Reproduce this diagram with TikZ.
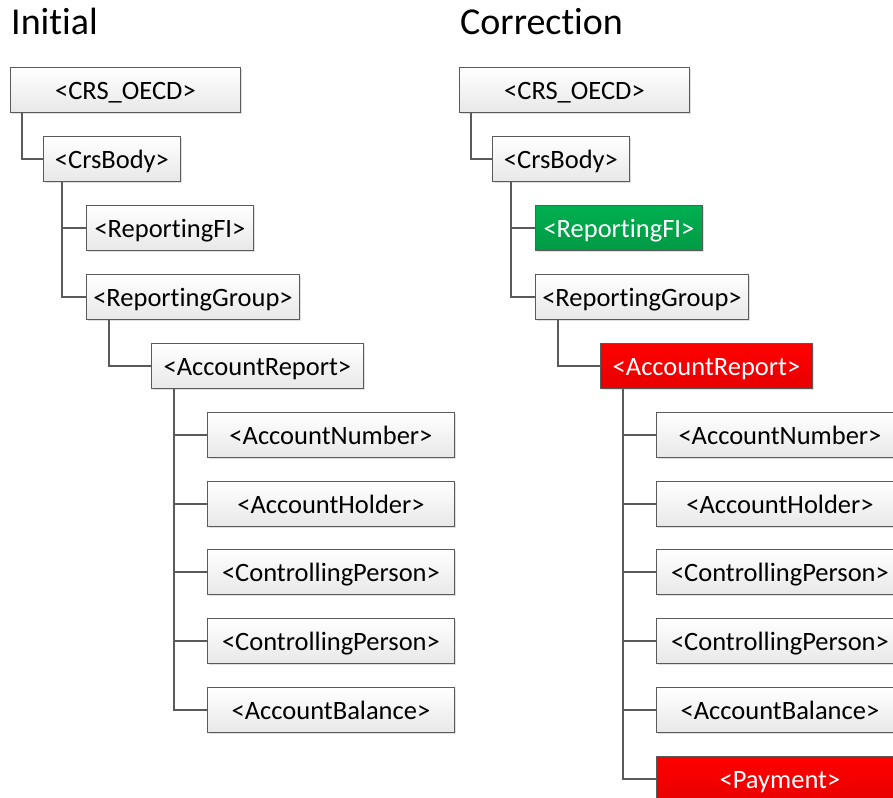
\documentclass[tikz,border=0pt]{standalone}
\usepackage{fontspec}
\setmainfont{Carlito}[Ligatures={NoCommon}]
\usetikzlibrary{shadows}
\definecolor{lineg}{HTML}{5A5A5A}
\definecolor{boxtop}{HTML}{FFFFFF}
\definecolor{boxbot}{HTML}{E8E8E8}
\definecolor{redtop}{HTML}{FF0000}
\definecolor{redbot}{HTML}{E80000}
\definecolor{grntop}{HTML}{00B050}
\definecolor{grnbot}{HTML}{009A44}
\tikzset{
  box/.style={draw=lineg, line width=0.9pt, anchor=north west, minimum height=45pt, inner sep=0pt,
    top color=boxtop, bottom color=boxbot, text=black,
    text height=19pt, text depth=0pt,
    font=\fontsize{26.5}{30}\selectfont,
    drop shadow={shadow xshift=2pt, shadow yshift=-2pt, fill=black, opacity=0.12}},
  redbox/.style={box, top color=redtop, bottom color=redbot, text=white},
  grnbox/.style={box, top color=grntop, bottom color=grnbot, text=white},
  conn/.style={draw=lineg, line width=1.1pt},
  title/.style={anchor=base west, inner sep=0pt, font=\fontsize{38}{43}\selectfont}
}
\begin{document}
\begin{tikzpicture}[x=1pt, y=-1pt]
\useasboundingbox (0,0) rectangle (893,797);
% ---------- Initial ----------
\node[title] (t1) at (11,35) {Initial};
\node[box, minimum width=230pt] (a1) at (10,67) {<CRS\_OECD>};
\node[box, minimum width=137pt] (b1) at (43,136) {<CrsBody>};
\node[box, minimum width=167pt] (c1) at (86,205) {<ReportingFI>};
\node[box, minimum width=213pt] (d1) at (86,274) {<ReportingGroup>};
\node[box, minimum width=212pt] (e1) at (151,343) {<AccountReport>};
\node[box, minimum width=247pt] (f1) at (207,412) {<AccountNumber>};
\node[box, minimum width=247pt] (g1) at (207,481) {<AccountHolder>};
\node[box, minimum width=247pt] (h1) at (207,549) {<ControllingPerson>};
\node[box, minimum width=247pt] (i1) at (207,618) {<ControllingPerson>};
\node[box, minimum width=247pt] (j1) at (207,687) {<AccountBalance>};
\draw[conn] ([xshift=12pt]a1.south west) |- (b1.west);
\draw[conn] ([xshift=19pt]b1.south west) |- (c1.west);
\draw[conn] ([xshift=19pt]b1.south west) |- (d1.west);
\draw[conn] ([xshift=23pt]d1.south west) |- (e1.west);
\foreach \c in {f1,g1,h1,i1,j1}
  \draw[conn] ([xshift=23pt]e1.south west) |- (\c.west);
% ---------- Correction ----------
\node[title] (t2) at (460,35) {Correction};
\node[box, minimum width=230pt] (a2) at (459,67) {<CRS\_OECD>};
\node[box, minimum width=137pt] (b2) at (492,136) {<CrsBody>};
\node[grnbox, minimum width=167pt] (c2) at (535,205) {<ReportingFI>};
\node[box, minimum width=213pt] (d2) at (535,274) {<ReportingGroup>};
\node[redbox, minimum width=212pt] (e2) at (600,343) {<AccountReport>};
\node[box, minimum width=247pt] (f2) at (656,412) {<AccountNumber>};
\node[box, minimum width=247pt] (g2) at (656,481) {<AccountHolder>};
\node[box, minimum width=247pt] (h2) at (656,549) {<ControllingPerson>};
\node[box, minimum width=247pt] (i2) at (656,618) {<ControllingPerson>};
\node[box, minimum width=247pt] (j2) at (656,687) {<AccountBalance>};
\node[redbox, minimum width=247pt] (k2) at (656,756) {<Payment>};
\draw[conn] ([xshift=12pt]a2.south west) |- (b2.west);
\draw[conn] ([xshift=19pt]b2.south west) |- (c2.west);
\draw[conn] ([xshift=19pt]b2.south west) |- (d2.west);
\draw[conn] ([xshift=23pt]d2.south west) |- (e2.west);
\foreach \c in {f2,g2,h2,i2,j2,k2}
  \draw[conn] ([xshift=23pt]e2.south west) |- (\c.west);
\end{tikzpicture}
\end{document}
